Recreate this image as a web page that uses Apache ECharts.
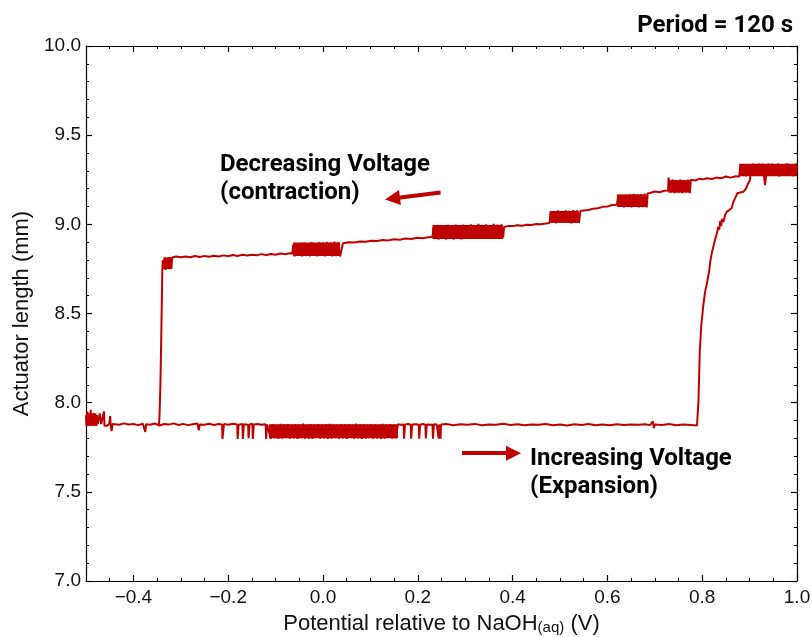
<!DOCTYPE html>
<html>
<head>
<meta charset="utf-8">
<script src="https://cdn.jsdelivr.net/npm/echarts@6/dist/echarts.min.js"></script>
<style>
html,body{margin:0;padding:0;background:#fff;}
#chart{width:812px;height:637px;}
</style>
</head>
<body>
<div id="chart"></div>
<script>
// ---- Data (potential in V, actuator length in mm) ----
const increasingSweep = [
[-0.500,7.93],[-0.499,7.87],[-0.497,7.95],[-0.495,7.88],[-0.494,7.94],[-0.492,7.87],[-0.490,7.96],[-0.489,7.88],
[-0.487,7.93],[-0.485,7.87],[-0.484,7.94],[-0.482,7.88],[-0.480,7.92],[-0.478,7.87],[-0.477,7.93],[-0.475,7.88],
[-0.473,7.87],[-0.471,7.94],[-0.470,7.95],[-0.468,7.88],[-0.466,7.87],[-0.464,7.88],[-0.462,7.95],[-0.461,7.87],
[-0.458,7.88],[-0.456,7.87],[-0.451,7.88],[-0.449,7.925],[-0.448,7.88],[-0.446,7.84],[-0.444,7.88],
[-0.440,7.882],[-0.430,7.876],[-0.420,7.884],[-0.410,7.878],[-0.400,7.880],[-0.390,7.874],[-0.380,7.882],
[-0.376,7.892],[-0.375,7.836],[-0.373,7.879],[-0.365,7.876],[-0.355,7.883],[-0.345,7.872],[-0.335,7.880],
[-0.325,7.877],[-0.315,7.884],[-0.305,7.875],[-0.295,7.881],[-0.285,7.874],[-0.275,7.879],[-0.265,7.883],
[-0.262,7.845],[-0.260,7.878],[-0.250,7.876],[-0.240,7.882],[-0.230,7.875],[-0.220,7.880],
[-0.213,7.878],[-0.212,7.797],[-0.210,7.797],[-0.209,7.880],[-0.200,7.876],[-0.190,7.882],[-0.181,7.877],
[-0.180,7.797],[-0.179,7.797],[-0.178,7.876],[-0.170,7.880],[-0.169,7.797],[-0.168,7.797],[-0.167,7.879],
[-0.158,7.876],[-0.157,7.800],[-0.156,7.800],[-0.155,7.878],[-0.149,7.882],[-0.148,7.797],[-0.147,7.797],
[-0.146,7.877],[-0.138,7.880],[-0.130,7.876],[-0.121,7.879],[-0.120,7.797],[-0.119,7.797],[-0.118,7.878],
[-0.114,7.878],[-0.110,7.798],[-0.106,7.880],[-0.102,7.800],[-0.098,7.877],[-0.094,7.797],[-0.090,7.881],
[-0.086,7.799],[-0.082,7.878],[-0.078,7.802],[-0.074,7.879],[-0.070,7.798],[-0.066,7.877],[-0.062,7.800],
[-0.058,7.880],[-0.054,7.797],[-0.050,7.878],[-0.046,7.801],[-0.042,7.882],[-0.038,7.798],[-0.034,7.877],
[-0.030,7.799],[-0.026,7.879],[-0.022,7.797],[-0.018,7.878],[-0.014,7.803],[-0.010,7.880],[-0.006,7.798],
[-0.002,7.877],[0.002,7.800],[0.006,7.879],[0.010,7.797],[0.014,7.881],[0.018,7.799],[0.022,7.878],
[0.026,7.801],[0.030,7.877],[0.034,7.798],[0.038,7.880],[0.042,7.800],[0.046,7.878],[0.050,7.797],
[0.054,7.879],[0.058,7.802],[0.062,7.877],[0.066,7.798],[0.070,7.882],[0.074,7.800],[0.078,7.878],
[0.082,7.797],[0.086,7.879],[0.090,7.799],[0.094,7.877],[0.098,7.801],[0.102,7.880],[0.106,7.798],
[0.110,7.878],[0.114,7.800],[0.118,7.877],[0.122,7.797],[0.126,7.881],[0.130,7.799],[0.134,7.878],
[0.138,7.802],[0.142,7.879],[0.146,7.798],[0.150,7.877],[0.154,7.800],[0.158,7.879],
[0.164,7.876],[0.170,7.878],[0.171,7.798],[0.172,7.798],[0.173,7.878],[0.180,7.880],[0.185,7.877],
[0.186,7.798],[0.187,7.798],[0.188,7.877],[0.196,7.879],[0.202,7.876],[0.203,7.798],[0.204,7.798],
[0.205,7.876],[0.211,7.880],[0.216,7.877],[0.217,7.799],[0.218,7.799],[0.219,7.878],[0.226,7.876],
[0.231,7.878],[0.232,7.798],[0.233,7.798],[0.234,7.879],[0.240,7.877],[0.243,7.878],[0.244,7.798],
[0.245,7.878],[0.247,7.878],[0.248,7.798],[0.249,7.877],[0.252,7.877],
[0.260,7.880],[0.275,7.874],[0.290,7.879],[0.305,7.876],[0.320,7.881],[0.335,7.873],[0.350,7.878],
[0.365,7.876],[0.380,7.882],[0.395,7.875],[0.410,7.879],[0.425,7.873],[0.440,7.878],[0.455,7.876],
[0.470,7.880],[0.485,7.874],[0.500,7.877],[0.515,7.872],[0.530,7.879],[0.545,7.875],[0.560,7.880],
[0.575,7.874],[0.590,7.877],[0.605,7.873],[0.620,7.879],[0.635,7.875],[0.650,7.878],[0.665,7.876],
[0.680,7.879],[0.690,7.874],[0.696,7.895],[0.698,7.858],[0.700,7.877],[0.715,7.875],[0.730,7.880],
[0.745,7.874],[0.760,7.878],[0.775,7.875],[0.789,7.872],
[0.792,8.00],[0.795,8.295],[0.798,8.43],[0.802,8.538],[0.806,8.62],[0.810,8.669],[0.815,8.744],
[0.817,8.79],[0.820,8.837],[0.827,8.912],[0.831,8.95],[0.834,8.987],[0.836,8.97],[0.838,9.02],
[0.840,8.99],[0.842,9.03],[0.845,9.015],[0.848,9.05],[0.852,9.071],[0.857,9.08],[0.862,9.09],
[0.864,9.11],[0.866,9.127],[0.870,9.15],[0.874,9.174],[0.880,9.178],[0.887,9.183],[0.891,9.195],
[0.894,9.211],[0.897,9.23],[0.901,9.248],[0.902,9.31],
[0.905,9.28],[0.910,9.335],[0.915,9.275],[0.920,9.34],[0.925,9.28],[0.930,9.335],[0.935,9.27],
[0.940,9.34],[0.945,9.285],[0.950,9.33],[0.955,9.275],[0.960,9.34],[0.965,9.28],[0.970,9.335],
[0.975,9.285],[0.980,9.34],[0.985,9.28],[0.990,9.335],[0.995,9.285],[1.000,9.33]
];

const decreasingSweep = [
[1.000,9.29],[0.9975,9.34],[0.9925,9.27],[0.9875,9.335],[0.9825,9.275],[0.9775,9.34],[0.9725,9.28],
[0.9675,9.33],[0.9625,9.27],[0.9575,9.335],[0.9525,9.28],[0.9475,9.34],[0.9425,9.275],[0.9375,9.33],
[0.9325,9.22],[0.9275,9.34],[0.9225,9.28],[0.9175,9.335],[0.9125,9.275],[0.9075,9.34],[0.9025,9.28],
[0.8975,9.335],[0.8925,9.27],[0.8875,9.33],[0.8825,9.275],[0.880,9.32],[0.878,9.268],
[0.870,9.270],[0.860,9.262],[0.850,9.268],[0.840,9.258],[0.830,9.262],[0.820,9.254],[0.810,9.258],
[0.802,9.252],[0.795,9.256],[0.785,9.246],[0.776,9.25],
[0.774,9.175],[0.770,9.25],[0.766,9.18],[0.762,9.248],[0.758,9.175],[0.754,9.25],[0.750,9.178],
[0.746,9.245],[0.742,9.175],[0.738,9.25],[0.734,9.18],[0.731,9.23],[0.729,9.262],[0.728,9.19],
[0.720,9.188],[0.710,9.18],[0.700,9.184],[0.690,9.176],[0.685,9.175],
[0.683,9.095],[0.679,9.172],[0.675,9.097],[0.671,9.17],[0.667,9.095],[0.663,9.168],[0.659,9.1],
[0.655,9.17],[0.651,9.095],[0.647,9.168],[0.643,9.1],[0.639,9.165],[0.635,9.095],[0.631,9.16],
[0.627,9.1],[0.623,9.16],[0.621,9.17],[0.620,9.11],
[0.610,9.108],[0.600,9.10],[0.590,9.098],[0.580,9.09],[0.570,9.088],[0.560,9.08],[0.550,9.078],[0.543,9.075],
[0.540,9.008],[0.536,9.078],[0.532,9.01],[0.528,9.08],[0.524,9.005],[0.520,9.075],[0.516,9.01],
[0.512,9.078],[0.508,9.008],[0.504,9.072],[0.500,9.012],[0.496,9.078],[0.492,9.005],[0.488,9.07],
[0.484,9.01],[0.480,9.065],[0.478,9.008],
[0.470,9.005],[0.460,9.0],[0.450,9.002],[0.440,8.996],[0.430,8.998],[0.420,8.992],[0.410,8.995],
[0.400,8.99],[0.390,8.99],[0.382,8.985],
[0.380,8.925],[0.376,9.0],[0.372,8.922],[0.368,8.998],[0.364,8.925],[0.360,9.002],[0.356,8.92],
[0.352,8.995],[0.348,8.925],[0.344,9.0],[0.340,8.918],[0.336,8.997],[0.332,8.922],[0.328,9.003],
[0.324,8.92],[0.320,8.996],[0.316,8.924],[0.312,9.0],[0.308,8.918],[0.304,8.994],[0.300,8.922],
[0.296,8.998],[0.292,8.916],[0.288,8.995],[0.284,8.92],[0.280,8.998],[0.276,8.915],[0.272,8.993],
[0.268,8.92],[0.264,8.997],[0.260,8.915],[0.256,8.992],[0.252,8.918],[0.248,8.996],[0.244,8.915],
[0.240,8.99],[0.236,8.918],[0.233,8.985],[0.231,8.93],
[0.222,8.928],[0.210,8.922],[0.198,8.925],[0.186,8.918],[0.174,8.92],[0.162,8.914],[0.150,8.916],
[0.138,8.91],[0.126,8.912],[0.114,8.906],[0.102,8.908],[0.090,8.902],[0.078,8.904],[0.066,8.898],
[0.054,8.9],[0.042,8.894],[0.038,8.897],
[0.036,8.82],[0.032,8.9],[0.028,8.822],[0.024,8.903],[0.020,8.82],[0.016,8.898],[0.012,8.825],
[0.008,8.902],[0.004,8.82],[0.000,8.897],[-0.004,8.823],[-0.008,8.9],[-0.012,8.82],[-0.016,8.895],
[-0.020,8.825],[-0.024,8.9],[-0.028,8.82],[-0.032,8.893],[-0.036,8.822],[-0.040,8.897],[-0.044,8.82],
[-0.048,8.892],[-0.052,8.824],[-0.056,8.895],[-0.060,8.82],[-0.063,8.885],[-0.065,8.835],
[-0.070,8.838],[-0.080,8.832],[-0.090,8.836],[-0.100,8.83],[-0.110,8.834],[-0.120,8.828],[-0.130,8.833],
[-0.140,8.826],[-0.150,8.83],[-0.160,8.825],[-0.170,8.829],[-0.180,8.822],[-0.190,8.828],[-0.200,8.821],
[-0.210,8.826],[-0.220,8.82],[-0.230,8.824],[-0.240,8.818],[-0.250,8.823],[-0.260,8.817],[-0.270,8.822],
[-0.280,8.815],[-0.290,8.82],[-0.300,8.816],[-0.310,8.82],[-0.318,8.814],
[-0.320,8.75],[-0.322,8.815],[-0.324,8.748],[-0.326,8.817],[-0.328,8.75],[-0.330,8.812],[-0.332,8.745],
[-0.334,8.815],[-0.336,8.75],[-0.338,8.80],
[-0.339,8.74],[-0.341,8.40],[-0.343,8.10],[-0.345,7.92],[-0.346,7.878]
];

// Dense-noise envelopes: [V start, V end, length low, length high]
const increasingNoiseBands = [
[-0.500,-0.478,7.870,7.940],
[-0.114,0.158,7.800,7.879],
[0.902,1.000,9.275,9.336]
];
const decreasingNoiseBands = [
[0.878,1.000,9.270,9.340],
[0.728,0.774,9.178,9.248],
[0.620,0.683,9.097,9.168],
[0.478,0.540,9.008,9.075],
[0.231,0.380,8.918,8.996],
[-0.063,0.036,8.822,8.898],
[-0.336,-0.320,8.750,8.814]
];

const xMajorTicks = [-0.4, -0.2, 0.0, 0.2, 0.4, 0.6, 0.8, 1.0];
const yTickLabels = [7.0, 7.5, 8.0, 8.5, 9.0, 9.5, 10.0];
const decreasingArrow = [[0.248, 9.179], [0.1466, 9.145]];
const increasingArrow = [[0.2932, 7.717], [0.4019, 7.717]];

// ---- Chart ----
const RED = '#c00000';
const AXIS_FONT = 'Liberation Sans, Arial, Helvetica, sans-serif';
const BOLD_FONT = 'Roboto, Inter, sans-serif';
const fmt = v => (v < 0 ? '\u2212' : '') + Math.abs(v).toFixed(1);

const chart = echarts.init(document.getElementById('chart'), null, {renderer: 'canvas'});
const axisLine = {show: true, onZero: false, lineStyle: {color: '#000', width: 1.2}};
const majorX = (pos, labels) => ({
  type: 'value', position: pos, min: -0.5, max: 1.0, gridIndex: 0,
  axisLine: axisLine,
  axisTick: {show: true, inside: true, length: 6, customValues: xMajorTicks, lineStyle: {color: '#000', width: 1.2}},
  axisLabel: {show: labels, customValues: xMajorTicks, formatter: fmt, margin: 7,
    fontSize: 19, color: '#111', fontFamily: AXIS_FONT},
  splitLine: {show: false}
});
const minorX = (pos) => ({
  type: 'value', position: pos, min: -0.5, max: 1.0, interval: 0.05, gridIndex: 0,
  axisLine: {show: false, onZero: false},
  axisTick: {show: true, inside: true, length: 3, lineStyle: {color: '#000', width: 1}},
  axisLabel: {show: false}, splitLine: {show: false}
});
const yAx = (pos, labels) => ({
  type: 'value', position: pos, min: 7, max: 10, interval: 0.5,
  axisLine: axisLine,
  axisTick: {show: true, inside: true, length: 6, lineStyle: {color: '#000', width: 1.2}},
  minorTick: {show: true, splitNumber: 5, length: 3, lineStyle: {color: '#000', width: 1}},
  axisLabel: {show: labels, customValues: yTickLabels, formatter: fmt, margin: 5, fontSize: 19, color: '#111', fontFamily: AXIS_FONT},
  splitLine: {show: false}
});

const xMain = majorX('bottom', true);
xMain.name = '{n|Potential relative to NaOH}{s|(aq)}{n| (V)}';
xMain.nameLocation = 'middle';
xMain.nameGap = 31;
xMain.nameTextStyle = {
  rich: {
    n: {fontSize: 22, color: '#111', fontFamily: AXIS_FONT},
    s: {fontSize: 15, padding: [8, 0, 0, 0], color: '#111', fontFamily: AXIS_FONT}
  }
};
const yMain = yAx('left', true);
yMain.name = 'Actuator length (mm)';
yMain.nameLocation = 'middle';
yMain.nameGap = 53;
yMain.nameTextStyle = {fontSize: 22, color: '#111', fontFamily: AXIS_FONT};

const arrowLine = (pts) => [{coord: pts[0], symbol: 'none'}, {coord: pts[1], symbol: 'triangle', symbolSize: [15, 15]}];

const bandRender = (params, api) => {
  const a = api.coord([api.value(0), api.value(3)]);
  const b = api.coord([api.value(1), api.value(2)]);
  return {type: 'rect', shape: {x: a[0], y: a[1], width: b[0] - a[0], height: b[1] - a[1]}, style: {fill: RED}};
};
const bandSeries = (name, data) => ({
  name: name, type: 'custom', data: data, renderItem: bandRender, clip: true, silent: true,
  xAxisIndex: 0, yAxisIndex: 0,
  encode: {x: [0, 1], y: [2, 3]}
});

chart.setOption({
  animation: false,
  backgroundColor: '#fff',
  grid: {left: 86, right: 15, top: 46, bottom: 56, containLabel: false, outerBoundsMode: 'none'},
  xAxis: [xMain, minorX('bottom'), majorX('top', false), minorX('top')],
  yAxis: [yMain, yAx('right', false)],
  series: [
    bandSeries('Increasing noise', increasingNoiseBands),
    bandSeries('Decreasing noise', decreasingNoiseBands),
    {
      name: 'Increasing Voltage', type: 'line', data: increasingSweep,
      xAxisIndex: 0, yAxisIndex: 0, showSymbol: false, symbol: 'none', clip: true,
      lineStyle: {color: RED, width: 2}, silent: true,
      markLine: {
        silent: true, animation: false, symbol: ['none', 'triangle'],
        label: {show: false},
        lineStyle: {color: RED, width: 4, type: 'solid'},
        data: [arrowLine(decreasingArrow), arrowLine(increasingArrow)]
      }
    },
    {
      name: 'Decreasing Voltage', type: 'line', data: decreasingSweep,
      xAxisIndex: 0, yAxisIndex: 0, showSymbol: false, symbol: 'none', clip: true,
      lineStyle: {color: RED, width: 2}, silent: true
    }
  ],
  graphic: [
    {type: 'text', right: 19, top: 14, style: {text: 'Period = 120 s', font: 'bold 24px ' + BOLD_FONT, fill: '#000'}},
    {type: 'text', left: 220, top: 153, style: {text: 'Decreasing Voltage', font: 'bold 24px ' + BOLD_FONT, fill: '#000'}},
    {type: 'text', left: 220, top: 181, style: {text: '(contraction)', font: 'bold 24px ' + BOLD_FONT, fill: '#000'}},
    {type: 'text', left: 530, top: 447, style: {text: 'Increasing Voltage', font: 'bold 24px ' + BOLD_FONT, fill: '#000'}},
    {type: 'text', left: 530, top: 475, style: {text: '(Expansion)', font: 'bold 24px ' + BOLD_FONT, fill: '#000'}}
  ]
});
</script>
</body>
</html>
